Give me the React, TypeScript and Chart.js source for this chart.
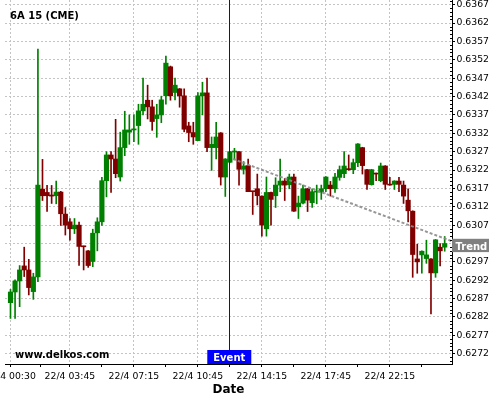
import React, { useEffect, useRef } from 'react';
import { Chart, registerables } from 'chart.js';

Chart.register(...registerables);

// ---- data (15-minute candles, index 0 = 22/4 00:30) ----
const OPEN = [
  0.62859, 0.62888, 0.62918, 0.62959, 0.62948, 0.62889, 0.62929, 0.63168, 0.63159, 0.63152,
  0.63150, 0.63160, 0.63100, 0.63079, 0.63060, 0.63070, 0.63012, 0.63000, 0.62971, 0.63049,
  0.63079, 0.63191, 0.63261, 0.63250, 0.63201, 0.63281, 0.63323, 0.63329, 0.63341, 0.63381,
  0.63410, 0.63392, 0.63360, 0.63370, 0.63422, 0.63501, 0.63431, 0.63441, 0.63422, 0.63340,
  0.63322, 0.63300, 0.63422, 0.63430, 0.63281, 0.63281, 0.63321, 0.63201, 0.63241, 0.63269,
  0.63270, 0.63222, 0.63232, 0.63162, 0.63169, 0.63149, 0.63060, 0.63159, 0.63150, 0.63179,
  0.63190, 0.63180, 0.63201, 0.63120, 0.63130, 0.63169, 0.63131, 0.63160, 0.63160, 0.63169,
  0.63179, 0.63169, 0.63200, 0.63210, 0.63223, 0.63221, 0.63240, 0.63281, 0.63221, 0.63180,
  0.63211, 0.63191, 0.63231, 0.63181, 0.63181, 0.63190, 0.63179, 0.63138, 0.63108, 0.62978,
  0.62989, 0.62979, 0.62978, 0.62940, 0.63010, 0.63010,
];
const HIGH = [
  0.62895, 0.62921, 0.62960, 0.63010, 0.62977, 0.62939, 0.63549, 0.63249, 0.63178, 0.63178,
  0.63190, 0.63162, 0.63118, 0.63088, 0.63088, 0.63078, 0.63013, 0.63001, 0.63059, 0.63090,
  0.63200, 0.63270, 0.63270, 0.63358, 0.63323, 0.63380, 0.63370, 0.63370, 0.63399, 0.63470,
  0.63451, 0.63410, 0.63399, 0.63421, 0.63530, 0.63503, 0.63470, 0.63442, 0.63441, 0.63350,
  0.63350, 0.63431, 0.63459, 0.63470, 0.63310, 0.63350, 0.63322, 0.63251, 0.63271, 0.63279,
  0.63270, 0.63243, 0.63250, 0.63162, 0.63209, 0.63150, 0.63201, 0.63160, 0.63199, 0.63250,
  0.63197, 0.63209, 0.63209, 0.63149, 0.63179, 0.63170, 0.63169, 0.63179, 0.63179, 0.63202,
  0.63189, 0.63211, 0.63231, 0.63270, 0.63261, 0.63250, 0.63292, 0.63282, 0.63222, 0.63222,
  0.63212, 0.63239, 0.63232, 0.63200, 0.63191, 0.63200, 0.63190, 0.63169, 0.63109, 0.63018,
  0.63000, 0.63029, 0.62979, 0.63031, 0.63020, 0.63039,
];
const LOW = [
  0.62816, 0.62816, 0.62848, 0.62930, 0.62880, 0.62868, 0.62916, 0.63137, 0.63107, 0.63129,
  0.63128, 0.63069, 0.63043, 0.63029, 0.63047, 0.62960, 0.62948, 0.62955, 0.62957, 0.63000,
  0.63069, 0.63147, 0.63159, 0.63199, 0.63190, 0.63259, 0.63290, 0.63297, 0.63290, 0.63370,
  0.63359, 0.63328, 0.63309, 0.63349, 0.63399, 0.63410, 0.63411, 0.63391, 0.63324, 0.63297,
  0.63290, 0.63300, 0.63370, 0.63270, 0.63219, 0.63250, 0.63179, 0.63148, 0.63241, 0.63250,
  0.63179, 0.63209, 0.63161, 0.63099, 0.63125, 0.63040, 0.63040, 0.63070, 0.63118, 0.63161,
  0.63137, 0.63169, 0.63107, 0.63088, 0.63128, 0.63107, 0.63118, 0.63128, 0.63140, 0.63161,
  0.63149, 0.63159, 0.63192, 0.63199, 0.63219, 0.63210, 0.63229, 0.63209, 0.63167, 0.63179,
  0.63191, 0.63188, 0.63167, 0.63179, 0.63167, 0.63161, 0.63129, 0.63079, 0.62928, 0.62939,
  0.62939, 0.62966, 0.62828, 0.62928, 0.62959, 0.62999,
];
const CLOSE = [
  0.62888, 0.62918, 0.62948, 0.62948, 0.62900, 0.62929, 0.63179, 0.63150, 0.63150, 0.63149,
  0.63160, 0.63101, 0.63070, 0.63060, 0.63070, 0.63012, 0.63011, 0.62960, 0.63048, 0.63079,
  0.63191, 0.63261, 0.63250, 0.63210, 0.63281, 0.63329, 0.63329, 0.63332, 0.63381, 0.63399,
  0.63392, 0.63352, 0.63370, 0.63411, 0.63511, 0.63422, 0.63451, 0.63422, 0.63331, 0.63322,
  0.63310, 0.63422, 0.63430, 0.63281, 0.63290, 0.63310, 0.63201, 0.63250, 0.63270, 0.63271,
  0.63222, 0.63231, 0.63161, 0.63161, 0.63150, 0.63070, 0.63159, 0.63140, 0.63179, 0.63190,
  0.63179, 0.63201, 0.63108, 0.63130, 0.63169, 0.63138, 0.63161, 0.63162, 0.63169, 0.63201,
  0.63169, 0.63201, 0.63221, 0.63231, 0.63221, 0.63240, 0.63291, 0.63232, 0.63181, 0.63221,
  0.63209, 0.63231, 0.63181, 0.63179, 0.63190, 0.63181, 0.63149, 0.63109, 0.62990, 0.62970,
  0.62999, 0.62989, 0.62940, 0.63030, 0.63000, 0.63020,
];

const X_TICK_POS = [0, 6.5, 13, 20, 27, 34, 41, 48, 55, 62, 69, 76, 83, 90];
const X_TICK_LABELS = [
  '22/4 00:30', '', '22/4 03:45', '', '22/4 07:15', '', '22/4 10:45', '',
  '22/4 14:15', '', '22/4 17:45', '', '22/4 22:15', '',
];
const Y_TICKS = [
  0.6272, 0.6277, 0.6282, 0.6287, 0.6292, 0.6297, 0.6302, 0.6307, 0.6312, 0.6317,
  0.6322, 0.6327, 0.6332, 0.6337, 0.6342, 0.6347, 0.6352, 0.6357, 0.6362, 0.6367,
];

const TREND_X = [48.7, 96.6];
const TREND_Y = [0.6325, 0.63026];
const EVENT_X = 47.87;

const TITLE = '6A 15 (CME)';
const WATERMARK = 'www.delkos.com';
const EVENT_LABEL = 'Event';
const TREND_LABEL = 'Trend';
const X_TITLE = 'Date';

const X_MIN = -1.203;
const X_MAX = 96.6;
const Y_MIN = 0.62692;
const Y_MAX = 0.636828;

const GREEN = '#008000';
const RED = '#800000';
const GRID = '#c4c4c4';
const FONT = 'DejaVu Sans';

const overlay = {
  id: 'overlay',
  afterDatasetsDraw(chart: any) {
    const { ctx, chartArea: a, scales } = chart;
    const ex = Math.round(scales.x.getPixelForValue(EVENT_X)) + 0.5;
    ctx.save();
    ctx.strokeStyle = '#0000ff';
    ctx.lineWidth = 1;
    ctx.beginPath();
    ctx.moveTo(ex, a.top);
    ctx.lineTo(ex, a.bottom);
    ctx.stroke();
    ctx.restore();
  },
  afterDraw(chart: any) {
    const { ctx, chartArea: a, scales } = chart;
    const y = scales.y;
    const x = scales.x;
    ctx.save();
    // minor y ticks (inside)
    ctx.strokeStyle = '#000';
    ctx.lineWidth = 1;
    const lo = Math.ceil(Y_MIN * 10000);
    const hi = Math.floor(Y_MAX * 10000);
    ctx.beginPath();
    for (let k = lo; k <= hi; k++) {
      if ((k - 6272) % 5 === 0) continue;
      const py = Math.round(y.getPixelForValue(k / 10000)) + 0.5;
      ctx.moveTo(a.right - 2, py);
      ctx.lineTo(a.right, py);
    }
    ctx.stroke();

    // title
    ctx.fillStyle = '#000';
    ctx.textBaseline = 'alphabetic';
    ctx.textAlign = 'left';
    ctx.font = `bold 10px "${FONT}"`;
    ctx.fillText(TITLE, a.left + 5, 19);
    ctx.fillText(WATERMARK, a.left + 10, a.bottom - 6);

    // event label
    const ex = x.getPixelForValue(EVENT_X);
    ctx.fillStyle = '#0000ff';
    ctx.fillRect(ex - 22, a.bottom - 14, 44, 14);
    ctx.fillStyle = '#fff';
    ctx.textAlign = 'center';
    ctx.fillText(EVENT_LABEL, ex, a.bottom - 3);

    // trend label
    const ty = y.getPixelForValue(TREND_Y[1]);
    ctx.fillStyle = '#808080';
    ctx.fillRect(a.right, ty - 2.5, 37, 13.3);
    ctx.fillStyle = '#fff';
    ctx.textAlign = 'left';
    ctx.fillText(TREND_LABEL, a.right + 3.5, ty + 8.5);
    ctx.restore();
  },
};

export default function App() {
  const ref = useRef<HTMLCanvasElement>(null);
  useEffect(() => {
    document.body.style.margin = '0';
    const canvas = ref.current!;
    const colors = OPEN.map((o, i) => (CLOSE[i] >= o ? GREEN : RED));
    const tickFont = { family: FONT, size: 9.3 };
    const chart = new Chart(canvas, {
      type: 'bar',
      data: {
        datasets: [
          {
            type: 'line',
            data: TREND_X.map((v, i) => ({ x: v, y: TREND_Y[i] })),
            borderColor: 'rgba(140,140,140,0.9)',
            borderWidth: 2,
            borderDash: [3, 2],
            pointRadius: 0,
            order: 0,
          } as any,
          {
            type: 'bar',
            data: OPEN.map((o, i) => ({ x: i, y: [o, CLOSE[i]] })),
            backgroundColor: colors,
            barThickness: 4.5,
            minBarLength: 1,
            grouped: false,
            order: 1,
          } as any,
          {
            type: 'bar',
            data: LOW.map((l, i) => ({ x: i, y: [l, HIGH[i]] })),
            backgroundColor: colors,
            barThickness: 1,
            grouped: false,
            order: 2,
          } as any,
        ],
      },
      options: {
        animation: false,
        responsive: false,
        devicePixelRatio: 1,
        layout: { padding: { left: 45, right: 0, top: 0, bottom: 0 }, autoPadding: false } as any,
        plugins: {
          legend: { display: false },
          tooltip: { enabled: false },
        },
        scales: {
          x: {
            type: 'linear',
            position: 'bottom',
            offset: false,
            min: X_MIN,
            max: X_MAX,
            afterBuildTicks: (s: any) => {
              s.ticks = X_TICK_POS.map((v) => ({ value: v }));
            },
            afterFit: (s: any) => {
              s.height = 36;
              s.paddingLeft = 0;
              s.paddingRight = 0;
            },
            ticks: {
              autoSkip: false,
              maxRotation: 0,
              padding: 4,
              font: tickFont,
              color: '#000',
              callback: (_v: any, i: number) => X_TICK_LABELS[i],
            },
            grid: {
              offset: false,
              color: (c: any) => (X_TICK_LABELS[c.index] ? GRID : 'rgba(0,0,0,0)'),
              tickColor: '#000',
              tickLength: 3,
              lineWidth: 1,
            },
            border: { display: true, color: '#000', width: 1, dash: [2, 2] },
            title: {
              display: true,
              text: X_TITLE,
              color: '#000',
              font: { family: FONT, size: 12, weight: 'bold' },
              padding: { top: 0, bottom: 3 },
            },
          } as any,
          y: {
            type: 'linear',
            position: 'right',
            min: Y_MIN,
            max: Y_MAX,
            afterBuildTicks: (s: any) => {
              s.ticks = Y_TICKS.map((v) => ({ value: v }));
            },
            afterFit: (s: any) => {
              s.width = 48;
              s.paddingTop = 0;
              s.paddingBottom = 0;
            },
            ticks: {
              padding: 1.5,
              font: tickFont,
              color: '#000',
              callback: (v: any) => Number(v).toFixed(4),
            },
            grid: { color: GRID, tickColor: '#000', tickLength: 3, lineWidth: 1 },
            border: { display: true, color: '#000', width: 1, dash: [2, 2] },
          } as any,
        },
      },
      plugins: [overlay],
    });
    return () => chart.destroy();
  }, []);

  return (
    <div style={{ position: 'relative', width: 500, height: 400, overflow: 'hidden', background: '#fff' }}>
      <canvas
        ref={ref}
        width={540}
        height={400}
        style={{ position: 'absolute', left: -40, top: 0, width: 540, height: 400 }}
      />
    </div>
  );
}
